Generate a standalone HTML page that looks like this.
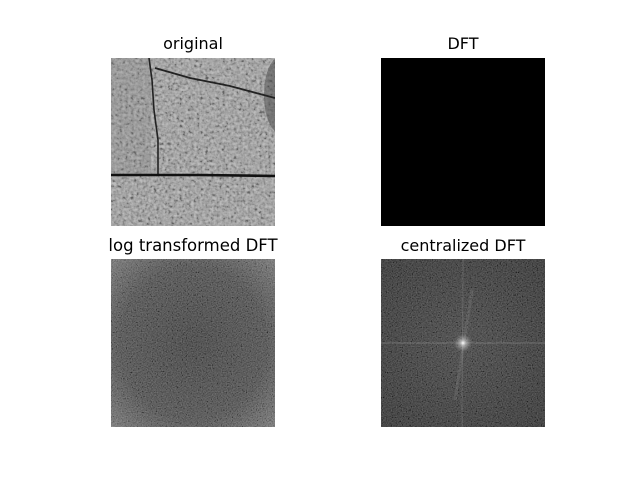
<!DOCTYPE html>
<html><head><meta charset="utf-8"><style>
body{margin:0;background:#fff;}
svg{display:block;font-family:"DejaVu Sans","Liberation Sans",sans-serif;}
</style></head><body>
<svg width="640" height="480" viewBox="0 0 640 480">
<defs>
<filter id="n1" x="0" y="0" width="100%" height="100%"><feTurbulence type="fractalNoise" baseFrequency="0.35" numOctaves="2" seed="3"/><feColorMatrix type="matrix" values="0.33 0.33 0.33 0 0 0.33 0.33 0.33 0 0 0.33 0.33 0.33 0 0 0 0 0 0 1"/><feComponentTransfer><feFuncR type="linear" slope="3" intercept="-1"/><feFuncG type="linear" slope="3" intercept="-1"/><feFuncB type="linear" slope="3" intercept="-1"/></feComponentTransfer></filter>
<filter id="n2" x="0" y="0" width="100%" height="100%"><feTurbulence type="fractalNoise" baseFrequency="0.8" numOctaves="1" seed="7"/><feColorMatrix type="matrix" values="0.33 0.33 0.33 0 0 0.33 0.33 0.33 0 0 0.33 0.33 0.33 0 0 0 0 0 0 1"/><feComponentTransfer><feFuncR type="linear" slope="3" intercept="-1"/><feFuncG type="linear" slope="3" intercept="-1"/><feFuncB type="linear" slope="3" intercept="-1"/></feComponentTransfer></filter>
<radialGradient id="logg" cx="0.5" cy="0.5" r="0.75"><stop offset="0" stop-color="#2a2a2a"/><stop offset="0.6" stop-color="#3a3a3a"/><stop offset="1" stop-color="#707070"/></radialGradient>
<radialGradient id="cg" cx="0.5" cy="0.5" r="0.7"><stop offset="0" stop-color="#2c2c2c"/><stop offset="1" stop-color="#161616"/></radialGradient>
<radialGradient id="spot"><stop offset="0" stop-color="#fff" stop-opacity="1"/><stop offset="0.3" stop-color="#ddd" stop-opacity="0.6"/><stop offset="1" stop-color="#aaa" stop-opacity="0"/></radialGradient>
<clipPath id="c1"><rect x="111" y="58" width="164" height="168"/></clipPath>
<clipPath id="c4"><rect x="381" y="259" width="164" height="168"/></clipPath>
</defs>

<text x="193" y="49" text-anchor="middle" font-size="16">original</text>
<g clip-path="url(#c1)">
<rect x="111" y="58" width="164" height="168" fill="#9a9a9a"/>
<rect x="111" y="58" width="164" height="168" filter="url(#n1)" opacity="0.35"/>
<rect x="111" y="58" width="40" height="118" fill="#777" opacity="0.2"/>
<ellipse cx="280" cy="95" rx="16" ry="38" fill="#444" opacity="0.5"/>
<path d="M149 58 L152 80 L154 110 L158 140 L158 176" stroke="#222" stroke-width="1.6" fill="none"/>
<path d="M155 68 L190 78 L230 86 L260 94 L275 98" stroke="#222" stroke-width="1.8" fill="none"/>
<path d="M111 175 L200 175 L275 176" stroke="#111" stroke-width="2.6" fill="none"/>
</g>

<text x="463" y="49" text-anchor="middle" font-size="16">DFT</text>
<rect x="381" y="58" width="164" height="168" fill="#000"/>

<text x="193" y="251" text-anchor="middle" font-size="16.5">log transformed DFT</text>
<g>
<rect x="111" y="259" width="164" height="168" fill="url(#logg)"/>
<rect x="111" y="259" width="164" height="168" filter="url(#n2)" opacity="0.3"/>
</g>

<text x="463" y="251" text-anchor="middle" font-size="16">centralized DFT</text>
<g clip-path="url(#c4)">
<rect x="381" y="259" width="164" height="168" fill="url(#cg)"/>
<rect x="381" y="259" width="164" height="168" filter="url(#n2)" opacity="0.3"/>
<line x1="381" y1="343" x2="545" y2="343" stroke="#888" stroke-width="1.2" opacity="0.5"/>
<line x1="463" y1="259" x2="462" y2="427" stroke="#888" stroke-width="1.2" opacity="0.35"/>
<line x1="472" y1="290" x2="455" y2="400" stroke="#999" stroke-width="3" opacity="0.2"/>
<circle cx="463" cy="343" r="9" fill="url(#spot)"/>
</g>
</svg>
</body></html>
